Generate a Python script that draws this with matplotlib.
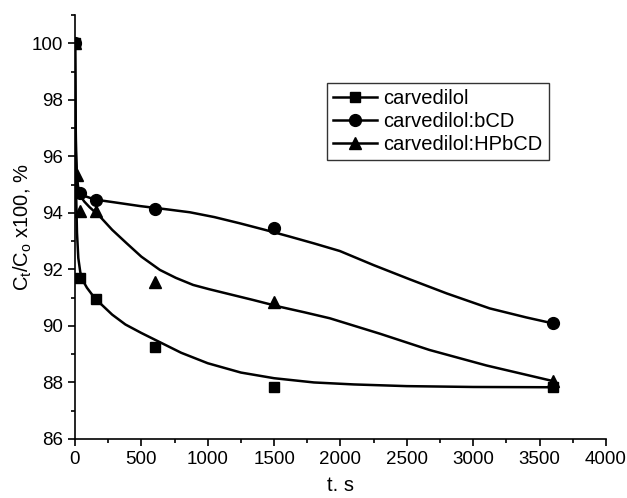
import matplotlib.pyplot as plt
from matplotlib.lines import Line2D
from matplotlib.ticker import MultipleLocator

plt.rcParams['font.family'] = ['Liberation Sans', 'DejaVu Sans']

# measured points (t in s, C/Co x100 in %)
t_carv = [0, 40, 160, 600, 1500, 3600]
v_carv = [100, 91.7, 90.95, 89.25, 87.85, 87.85]

t_bcd = [0, 40, 160, 600, 1500, 3600]
v_bcd = [100, 94.7, 94.45, 94.15, 93.45, 90.1]

t_hp = [0, 15, 40, 160, 600, 1500, 3600]
v_hp = [100, 95.35, 94.05, 94.05, 91.55, 90.85, 88.05]

# fitted curves
ct_carv = [0, 3, 8, 15, 25, 40, 60, 90, 130, 190, 280, 380, 500, 650, 800,
           1000, 1250, 1500, 1800, 2100, 2500, 3000, 3600]
cv_carv = [100, 97.5, 94.8, 93.3, 92.4, 91.9, 91.6, 91.35, 91.1, 90.8, 90.4, 90.05,
           89.75, 89.4, 89.05, 88.68, 88.35, 88.15, 88.0, 87.93, 87.87, 87.84, 87.83]

ct_bcd = [0, 3, 8, 15, 25, 40, 70, 150, 300, 490, 700, 866, 1050, 1242, 1430,
          1618, 1800, 1995, 2250, 2521, 2800, 3124, 3400, 3600]
cv_bcd = [100, 97.5, 95.8, 95.1, 94.85, 94.7, 94.6, 94.47, 94.37, 94.24, 94.12, 94.02,
          93.85, 93.63, 93.4, 93.16, 92.92, 92.65, 92.15, 91.65, 91.15, 90.62, 90.3, 90.09]

ct_hp = [0, 3, 8, 15, 25, 40, 70, 110, 190, 280, 390, 500, 640, 760, 890, 1010,
         1140, 1340, 1540, 1730, 1920, 2300, 2670, 3100, 3600]
cv_hp = [100, 97.8, 96.2, 95.3, 94.85, 94.6, 94.4, 94.2, 93.86, 93.4, 92.92, 92.45,
         91.98, 91.7, 91.45, 91.3, 91.15, 90.92, 90.68, 90.48, 90.27, 89.72, 89.15,
         88.6, 88.05]

labels = ["carvedilol", "carvedilol:bCD", "carvedilol:HPbCD"]
markers = ["s", "o", "^"]
msizes = [7, 8.5, 8.5]

fig = plt.figure(figsize=(6.27, 4.98), dpi=100)
ax = fig.add_axes([0.1196, 0.1185, 0.8469, 0.8514])

lw = 1.8
ax.plot(ct_carv, cv_carv, color="black", lw=lw)
ax.plot(ct_bcd, cv_bcd, color="black", lw=lw)
ax.plot(ct_hp, cv_hp, color="black", lw=lw)
ax.plot(t_carv, v_carv, ls="none", marker="s", ms=msizes[0], color="black")
ax.plot(t_bcd, v_bcd, ls="none", marker="o", ms=msizes[1], color="black")
ax.plot(t_hp, v_hp, ls="none", marker="^", ms=msizes[2], color="black")

ax.set_xlim(0, 4000)
ax.set_ylim(86, 101)
ax.xaxis.set_major_locator(MultipleLocator(500))
ax.xaxis.set_minor_locator(MultipleLocator(250))
ax.yaxis.set_major_locator(MultipleLocator(2))
ax.yaxis.set_minor_locator(MultipleLocator(1))
ax.spines["top"].set_visible(False)
ax.spines["right"].set_visible(False)
for s in ["left", "bottom"]:
    ax.spines[s].set_linewidth(1.2)
ax.tick_params(which="major", direction="out", length=5, width=1.2, labelsize=13.5)
ax.tick_params(which="minor", direction="out", length=3, width=1.2)

ax.set_xlabel("t. s", fontsize=14.5, labelpad=6)
ax.set_ylabel(r"C$_\mathregular{t}$/C$_\mathregular{o}$ x100, %", fontsize=14.5, labelpad=-1.5)

handles = [Line2D([], [], color="black", lw=lw, marker=m, ms=ms) for m, ms in zip(markers, msizes)]
leg = ax.legend(handles, labels, loc="upper left", bbox_to_anchor=(0.4746, 0.8396),
                fontsize=14.5, frameon=True, fancybox=False, edgecolor="black",
                handlelength=2.2, borderpad=0.3, labelspacing=0.2, handletextpad=0.3,
                borderaxespad=0)
leg.get_frame().set_linewidth(1.0)

fig.savefig("out.png", dpi=100)
